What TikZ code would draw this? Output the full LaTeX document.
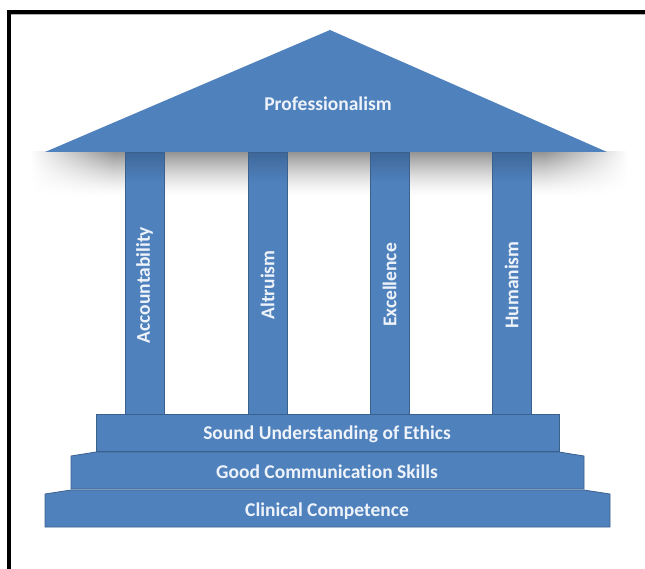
\documentclass[tikz,border=0pt]{standalone}
\usepackage{fontspec}
\setmainfont{Carlito}[Ligatures={NoCommon}]

\definecolor{templeblue}{RGB}{79,129,189}
\definecolor{templeedge}{RGB}{58,96,142}
\definecolor{templeshade}{RGB}{62,103,153}
\definecolor{labeltext}{RGB}{238,243,250}

% roof shadow: darkest under the roof edge, fading downwards and at both ends
\pgfdeclarefunctionalshading{roofshadow}{\pgfpoint{0bp}{0bp}}{\pgfpoint{100bp}{100bp}}{}{
  25 sub 50 div
  dup 0 lt {pop 0} if
  dup 1 gt {pop 1} if
  dup sqrt mul
  exch
  dup 25 sub 7 div exch 75 exch sub 7 div
  2 copy gt {exch} if pop
  dup 1 gt {pop 1} if
  dup 0 lt {pop 0} if
  mul 0.42 mul
  1 exch sub
  dup dup
}

\tikzset{
  block/.style={fill=templeblue, draw=templeedge, line width=0.8pt},
  steplabel/.style={text=labeltext, font=\fontsize{19.5}{22}\selectfont\bfseries, inner sep=0pt},
  pillarlabel/.style={text=labeltext, font=\fontsize{19.5}{22}\selectfont\bfseries, inner sep=0pt, rotate=90},
}

\begin{document}
\begin{tikzpicture}[x=1pt, y=-1pt]
  \useasboundingbox (0,0) rectangle (645,569);
  \clip (0,0) rectangle (645,569);
  \fill[white] (0,0) rectangle (645,569);

  % frame, open to the right and below
  \draw[line width=4pt] (8.5,600) -- (8.5,12) -- (680,12);
  \draw[gray!60, line width=0.8pt] (10.5,14.6) -- (680,14.6);

  % soft shadow beneath the roof
  \shade[shading=roofshadow] (30,152) rectangle (628,197);

  % pillars
  \foreach \x/\name in {125/pa, 248/pb, 370/pc, 492/pd}{
    \fill[templeblue] (\x,152) rectangle ++(39,262);
    \shade[top color=templeshade, bottom color=templeblue] (\x,152) rectangle ++(39,30);
    \draw[templeedge, line width=0.8pt] (\x,152) rectangle ++(39,262);
    \coordinate (\name) at (\x+19.5,285);
  }
  \node[pillarlabel] (accountability) at (pa) {Accountability};
  \node[pillarlabel] (altruism) at (pb) {Altruism};
  \node[pillarlabel] (excellence) at (pc) {Excellence};
  \node[pillarlabel] (humanism) at (pd) {Humanism};

  % roof
  \fill[templeblue] (45,152) -- (330,30) -- (607,152) -- cycle;
  \node[steplabel] (roof) at (328,104) {Professionalism};

  % steps, lowest last
  \draw[block] (96,414) rectangle (559,451);
  \draw[block] (71,489) -- (71,456) -- (96,452) -- (559,452) -- (584,456) -- (584,489) -- cycle;
  \draw[block] (45,527) -- (45,494) -- (71,490) -- (584,490) -- (610,494) -- (610,527) -- cycle;

  \node[steplabel] (ethics) at (327,434) {Sound Understanding of Ethics};
  \node[steplabel] (communication) at (327,472) {Good Communication Skills};
  \node[steplabel] (competence) at (327,511) {Clinical Competence};
\end{tikzpicture}
\end{document}
